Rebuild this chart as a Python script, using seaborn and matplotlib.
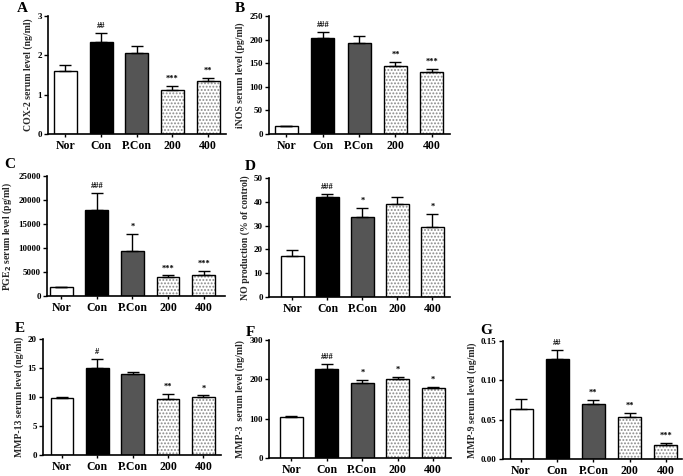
import matplotlib
matplotlib.use("Agg")
import matplotlib.pyplot as plt
from matplotlib.patches import Rectangle
import seaborn as sns
import numpy as np

sns.set_theme(style="ticks")
plt.rcParams['font.family'] = ['Liberation Serif', 'DejaVu Serif']
plt.rcParams['font.weight'] = 'bold'
plt.rcParams['axes.labelweight'] = 'bold'
plt.rcParams['hatch.linewidth'] = 0.9

groups = ["Nor", "Con", "P.Con", "200", "400"]
bar_colors = ["white", "black", "#555555", "white", "white"]

# Panel A: COX-2
a_vals = [1.60, 2.34, 2.06, 1.11, 1.34]
a_err = [0.15, 0.22, 0.18, 0.12, 0.08]
a_sig = ["", "##", "", "***", "**"]
# Panel B: iNOS
b_vals = [17, 204, 192, 145, 132]
b_err = [1, 13, 15, 8, 6]
b_sig = ["", "###", "", "**", "***"]
# Panel C: PGE2
c_vals = [1800, 18000, 9400, 3950, 4300]
c_err = [100, 3500, 3500, 350, 1000]
c_sig = ["", "###", "*", "***", "***"]
# Panel D: NO production
d_vals = [17.4, 42.0, 33.8, 39.2, 29.5]
d_err = [2.3, 1.3, 3.7, 3.0, 5.4]
d_sig = ["", "###", "*", "", "*"]
# Panel E: MMP-13
e_vals = [9.9, 15.0, 13.9, 9.7, 10.0]
e_err = [0.1, 1.5, 0.4, 0.9, 0.3]
e_sig = ["", "#", "", "**", "*"]
# Panel F: MMP-3
f_vals = [105, 226, 191, 200, 178]
f_err = [1.5, 12, 8, 7, 2.5]
f_sig = ["", "###", "*", "*", "*"]
# Panel G: MMP-9
g_vals = [0.0636, 0.1275, 0.0700, 0.0538, 0.0174]
g_err = [0.0131, 0.0105, 0.0054, 0.0047, 0.0029]
g_sig = ["", "##", "**", "**", "***"]

W, H = 683, 476
fig = plt.figure(figsize=(W / 100, H / 100), dpi=100)

panels = [
    ("A", a_vals, a_err, a_sig, "COX-2 serum level (ng/ml)", 3, 1, "{:.0f}",
     (48, 226, 16, 134), (-0.49, 4.5), (22, 8)),
    ("B", b_vals, b_err, b_sig, "iNOS serum level (pg/ml)", 250, 50, "{:.0f}",
     (269, 450, 16, 134), (-0.48, 4.5), (240, 8)),
    ("C", c_vals, c_err, c_sig, "PGE$_\\mathbf{2}$ serum level (pg/ml)", 25000, 5000, "{:.0f}",
     (47, 225, 176, 296), (-0.4, 4.6), (10, 165)),
    ("D", d_vals, d_err, d_sig, "NO production (% of control)", 50, 10, "{:.0f}",
     (269, 450, 178, 297), (-0.67, 4.5), (250, 167)),
    ("E", e_vals, e_err, e_sig, "MMP-13 serum level (ng/ml)", 20, 5, "{:.0f}",
     (43, 221, 339, 455), (-0.54, 4.5), (20, 328)),
    ("F", f_vals, f_err, f_sig, "MMP-3  serum level (ng/ml)", 300, 100, "{:.0f}",
     (269, 451, 340, 458), (-0.63, 4.5), (250, 332)),
    ("G", g_vals, g_err, g_sig, "MMP-9 serum level (ng/ml)", 0.15, 0.05, "{:.2f}",
     (503, 682, 341, 459), (-0.5, 4.45), (486, 330)),
]

for letter, vals, err, sig, ylabel, ymax, ystep, fmt, box, xlim, lpos in panels:
    l, r, t, b = box
    ax = fig.add_axes([l / W, 1 - b / H, (r - l) / W, (b - t) / H])
    sns.barplot(x=groups, y=vals, hue=groups, palette=bar_colors, order=groups,
                hue_order=groups, edgecolor="black", linewidth=1.0, width=0.64,
                errorbar=None, legend=False, ax=ax)
    for i, p in enumerate(list(ax.patches)):
        if i >= 3:
            p.set_hatch(".....")
            p.set_edgecolor("#8a8a8a")
            p.set_linewidth(0)
            ax.add_patch(Rectangle(p.get_xy(), p.get_width(), p.get_height(),
                                   fill=False, edgecolor="black", linewidth=1.0, zorder=p.get_zorder() + 0.1))
    ax.errorbar(range(len(groups)), vals, yerr=[np.zeros(len(vals)), err],
                fmt="none", ecolor="black", elinewidth=1.0, capsize=4, capthick=1.0, zorder=1)
    for i, s in enumerate(sig):
        if s:
            ax.text(i, vals[i] + err[i] + ymax * 0.025, s, ha="center", va="bottom",
                    fontsize=6, fontweight="bold", color="black")
    ax.set_xlim(*xlim)
    ax.set_ylim(0, ymax)
    ticks = np.arange(0, ymax + ystep / 2, ystep)
    ax.set_yticks(ticks)
    ax.set_yticklabels([fmt.format(v) for v in ticks], fontsize=6.5, fontweight="bold")
    ax.set_xticks(range(len(groups)))
    ax.set_xticklabels(groups, fontsize=8.5, fontweight="bold")
    ax.set_ylabel(ylabel, fontsize=7, fontweight="bold", labelpad=3)
    ax.set_xlabel("")
    for sp in ["top", "right"]:
        ax.spines[sp].set_visible(False)
    for sp in ["left", "bottom"]:
        ax.spines[sp].set_color("black")
        ax.spines[sp].set_linewidth(1.2)
    ax.tick_params(axis="y", direction="out", length=3, width=1, colors="black", pad=1.5)
    ax.tick_params(axis="x", direction="out", length=2.5, width=1, colors="black", pad=2)
    ax.set_facecolor("white")
    fig.text(lpos[0] / W, 1 - lpos[1] / H, letter, fontsize=11, fontweight="bold",
             ha="center", va="center", color="black")

fig.savefig("out.png", dpi=100, facecolor="white")
